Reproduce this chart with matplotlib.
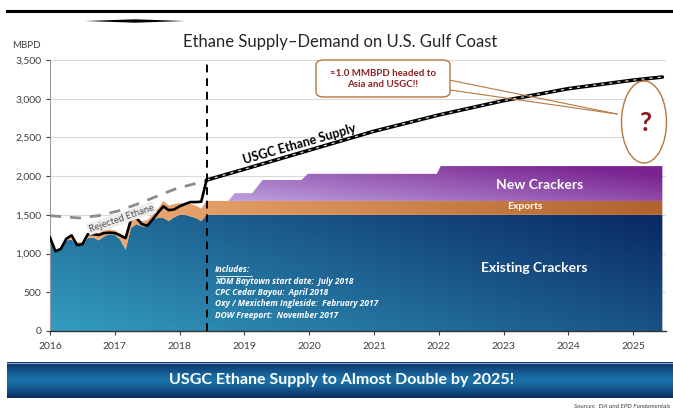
import numpy as np
import matplotlib
matplotlib.use("Agg")
import matplotlib.pyplot as plt
from matplotlib.patches import FancyBboxPatch, Ellipse, Polygon
from matplotlib.colors import to_rgb

plt.rcParams['font.family'] = ['Lato', 'DejaVu Sans']

# ---------------- data (MBPD) ----------------
# monthly history, Jan 2016 .. Jun 2018
hist_dates = 2016 + np.arange(30) / 12.0
hist_supply = [1210, 1030, 1060, 1190, 1235, 1110, 1120, 1250, 1250, 1240,
               1265, 1270, 1265, 1235, 1200, 1440, 1460, 1380, 1360, 1440,
               1530, 1610, 1560, 1570, 1610, 1640, 1665, 1665, 1670, 1950]
hist_crackers = [1200, 1040, 1050, 1170, 1180, 1120, 1110, 1200, 1210, 1170,
                 1220, 1250, 1240, 1180, 1050, 1330, 1380, 1350, 1350, 1440,
                 1460, 1460, 1420, 1470, 1500, 1500, 1480, 1460, 1420, 1500]
hist_exports = [0, 10, 20, 20, 20, 30, 40, 60, 70, 90,
                80, 60, 60, 80, 160, 100, 70, 70, 80, 60,
                120, 220, 200, 170, 150, 150, 160, 160, 160, 180]

# potential supply incl. rejected ethane
rej_years = [2016.0, 2016.2, 2016.45, 2016.75, 2017.05, 2017.35, 2017.65,
             2017.95, 2018.25, 2018.42]
rej_values = [1490, 1475, 1460, 1490, 1550, 1640, 1740, 1840, 1905, 1945]

# forecast
fc_years = [2018.42, 2025.45]
fc_crackers = [1500, 1500]
fc_exports = [180, 180]

nc_years = [2018.42, 2018.75, 2018.85, 2019.12, 2019.28, 2019.88, 2019.98,
            2021.97, 2022.03, 2025.45]
nc_values = [0, 0, 100, 100, 270, 270, 350, 350, 450, 450]

supply_years = [2018.42, 2019, 2020, 2021, 2022, 2023, 2024, 2025, 2025.45]
supply_values = [1950, 2090, 2335, 2580, 2790, 2975, 3130, 3240, 3280]

cutoff_year = 2018.42

yticks = [0, 500, 1000, 1500, 2000, 2500, 3000, 3500]
xticks = list(range(2016, 2026))

# ---------------- figure ----------------
W, H = 673, 412
fig = plt.figure(figsize=(W / 100, H / 100), dpi=100)
fig.patch.set_facecolor('white')


def fx(px):
    return px / W


def fy(py):
    return 1 - py / H


ax = fig.add_axes([fx(50), fy(331), 615.6 / W, 271 / H])
XMIN, XMAX, YMIN, YMAX = 2016, 2025.5, 0, 3500


def lerp_colors(c0, c1, t):
    c0 = np.array(to_rgb(c0))
    c1 = np.array(to_rgb(c1))
    return c0[None, None, :] * (1 - t[..., None]) + c1[None, None, :] * t[..., None]


def gradient_fill(x, y1, y2, c0, c1, wx=1.0, wy=0.0, z=2, ylo=0, yhi=3500):
    poly = ax.fill_between(x, y1, y2, facecolor='none', lw=0)
    path = poly.get_paths()[0]
    gx = np.linspace(0, 1, 200)
    gy = np.linspace(0, 1, 100)
    GX, GY = np.meshgrid(gx, gy)
    t = np.clip(wx * GX + wy * GY, 0, 1)
    img = lerp_colors(c0, c1, t)
    im = ax.imshow(img, extent=[XMIN, XMAX, ylo, yhi], origin='lower',
                   aspect='auto', zorder=z, interpolation='bilinear')
    im.set_clip_path(path, ax.transData)
    return im


# combined series for the stacked areas
x_all = np.concatenate([hist_dates, fc_years])
crk_all = np.concatenate([hist_crackers, fc_crackers])
exp_all = np.concatenate([hist_exports, fc_exports])
top_exp = crk_all + exp_all

nc_base = np.interp(nc_years, fc_years, np.array(fc_crackers) + np.array(fc_exports))
nc_top = nc_base + np.array(nc_values)

# existing crackers (blue), exports (orange), new crackers (purple)
gradient_fill(x_all, 0, crk_all, '#339dc0', '#0a2a66', wx=0.65, wy=0.38, z=2,
              ylo=0, yhi=1500)
gradient_fill(x_all, crk_all, top_exp, '#f6b27a', '#b0622c', wx=1.0, wy=0.0, z=3,
              ylo=1000, yhi=1700)
gradient_fill(nc_years, nc_base, nc_top, '#cfc3f6', '#7a2490', wx=0.75, wy=0.35, z=3,
              ylo=1680, yhi=2130)

# rejected ethane dashed line
ax.plot(rej_years, rej_values, color='#8c8c8c', lw=2.0, dashes=(4, 3.2), zorder=5)

# historical supply
ax.plot(hist_dates, hist_supply, color='black', lw=1.9, zorder=6,
        solid_joinstyle='round')

# forecast supply
ax.plot(supply_years, supply_values, color='black', lw=2.6, zorder=6,
        solid_capstyle='round')
ax.plot(supply_years, supply_values, color='#d8d8d8', lw=0.9, dashes=(2.5, 4),
        zorder=7)

# cutoff line
ax.axvline(cutoff_year, color='black', lw=1.4, dashes=(4, 3), zorder=8)

# axes styling
ax.set_xlim(XMIN, XMAX)
ax.set_ylim(YMIN, YMAX)
ax.set_yticks(yticks)
ax.set_yticklabels([f'{v:,}' for v in yticks])
ax.set_xticks(xticks)
ax.set_xticklabels([str(v) for v in xticks])
ax.grid(axis='y', color='#d9d9d9', lw=0.8, zorder=0)
ax.set_axisbelow(True)
for s in ['top', 'right']:
    ax.spines[s].set_visible(False)
ax.spines['left'].set_color('#9a9a9a')
ax.spines['left'].set_linewidth(0.8)
ax.spines['bottom'].set_color('#333333')
ax.spines['bottom'].set_linewidth(1.0)
ax.spines['bottom'].set_zorder(9)
ax.tick_params(axis='y', labelsize=7.5, colors='#404040', length=3, width=0.8,
               pad=3)
ax.tick_params(axis='x', labelsize=7.5, colors='#404040', length=3, width=0.8,
               pad=5)
for lab in ax.get_yticklabels() + ax.get_xticklabels():
    lab.set_color('#404040')

# labels inside the plot
ax.text(2023.56, 1886, 'New Crackers', color='white', fontsize=10,
        fontweight='bold', ha='center', va='center', zorder=10)
ax.text(2023.33, 1603, 'Exports', color='white', fontsize=7.5,
        fontweight='bold', ha='center', va='center', zorder=10)
ax.text(2023.47, 814, 'Existing Crackers', color='white', fontsize=10,
        fontweight='bold', ha='center', va='center', zorder=10)

inc_font = dict(family=['Open Sans', 'DejaVu Sans'], fontsize=6.0,
                fontweight='bold', fontstyle='italic', color='white',
                ha='left', va='center', zorder=10)
inc_lines = ['XOM Baytown start date:  July 2018',
             'CPC Cedar Bayou:  April 2018',
             'Oxy / Mexichem Ingleside:  February 2017',
             'DOW Freeport:  November 2017']
ax.text(2018.55, 790, 'Includes:', **inc_font)
ax.plot([2018.56, 2018.56 + 0.56], [715, 715], color='white', lw=0.6, zorder=10)
for i, line in enumerate(inc_lines):
    ax.text(2018.55, 640 - i * 145, line, **inc_font)

ax.text(2019.85, 2415, 'USGC Ethane Supply', color='black', fontsize=9,
        fontweight='bold', ha='center', va='center', rotation=16, zorder=10)
ax.text(2017.1, 1455, 'Rejected Ethane', color='#505050', fontsize=6.8,
        ha='center', va='center', rotation=19, zorder=10,
        bbox=dict(boxstyle='square,pad=0.15', fc='#ededed', ec='none'))

# ---------------- annotations in figure space ----------------
box = FancyBboxPatch((fx(316), fy(97)), fx(450) - fx(316), fy(60) - fy(97),
                     boxstyle='round,pad=0,rounding_size=0.012',
                     transform=fig.transFigure, fc='white', ec='#b8763e',
                     lw=1.0, zorder=20)
fig.add_artist(box)
fig.text(fx(383), fy(79), '≈1.0 MMBPD headed to\nAsia and USGC!!',
         color='#8b2323', fontsize=7, fontweight='bold', ha='center',
         va='center', linespacing=1.4, zorder=21)
fig.add_artist(plt.Line2D([fx(449), fx(617)], [fy(80), fy(114)],
                          transform=fig.transFigure, color='#b8763e', lw=0.8,
                          zorder=19))
fig.add_artist(plt.Line2D([fx(450), fx(617)], [fy(90), fy(114)],
                          transform=fig.transFigure, color='#b8763e', lw=0.8,
                          zorder=19))
ell = Ellipse((fx(644), fy(122)), fx(45), 82 / H, transform=fig.transFigure,
              fc='white', ec='#b8763e', lw=1.0, zorder=20)
fig.add_artist(ell)
fig.text(fx(645), fy(123), '?', color='#8b1a1a', fontsize=19,
         fontweight='bold', ha='center', va='center', zorder=21)

# title and unit label
fig.text(fx(340), fy(42), 'Ethane Supply\u2013Demand on U.S. Gulf Coast',
         fontsize=12, color='#262626', ha='center', va='center')
fig.text(fx(12), fy(46), 'MBPD', fontsize=7, color='#404040', ha='left',
         va='center')

# header rules
fig.add_artist(plt.Line2D([fx(7), fx(673)], [fy(11), fy(11)],
                          transform=fig.transFigure, color='black', lw=2.2))
fig.add_artist(Polygon([(fx(85), fy(21)), (fx(135), fy(19.3)),
                        (fx(185), fy(21)), (fx(135), fy(22.7))],
                       closed=True, transform=fig.transFigure, fc='black',
                       ec='none'))

# bottom banner
bax = fig.add_axes([fx(7), fy(398), fx(673) - fx(7), 36 / H])
t = np.abs(np.linspace(-1, 1, 60))
col = lerp_colors('#1b72a8', '#0a2b60', t[:, None] ** 1.3 * np.ones((60, 2)))
bax.imshow(col, extent=[0, 1, 0, 1], aspect='auto', origin='lower',
           interpolation='bilinear')
bax.axhline(0.98, color='#7fb0d6', lw=0.8)
bax.set_xlim(0, 1)
bax.set_ylim(0, 1)
bax.axis('off')
bax.text(0.503, 0.5, 'USGC Ethane Supply to Almost Double by 2025!',
         color='white', fontsize=11.5, fontweight='bold', ha='center',
         va='center')

fig.text(fx(670), fy(407), 'Sources:  EIA and EPD Fundamentals',
         fontsize=4.5, fontstyle='italic', color='#404040', ha='right',
         va='center')

fig.savefig('out.png', dpi=100)
